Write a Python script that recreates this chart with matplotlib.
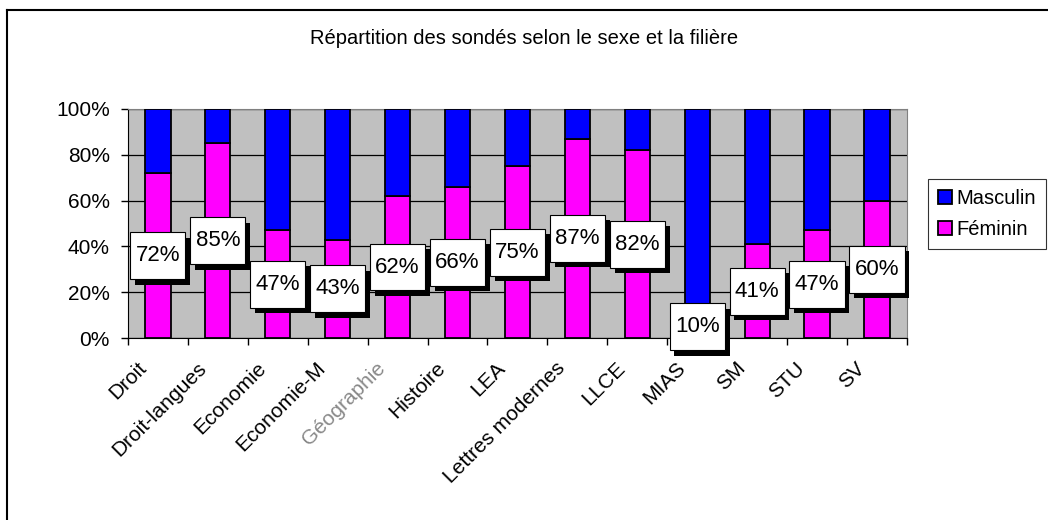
import matplotlib.pyplot as plt
from matplotlib.lines import Line2D
from matplotlib.patches import Rectangle
import numpy as np

plt.rcParams['font.family'] = ['Liberation Sans', 'DejaVu Sans']

filieres = ['Droit', 'Droit-langues', 'Economie', 'Economie-M', 'Géographie',
            'Histoire', 'LEA', 'Lettres modernes', 'LLCE', 'MIAS', 'SM', 'STU', 'SV']
feminin = [72, 85, 47, 43, 62, 66, 75, 87, 82, 10, 41, 47, 60]
masculin = [100 - f for f in feminin]

fig = plt.figure(figsize=(10.48, 5.2), dpi=100)
ax = fig.add_axes([0.1221, 0.35, 0.7433, 0.4404])
ax.set_facecolor('#C0C0C0')

x = np.arange(len(filieres))
ax.bar(x, feminin, width=0.42, color='#FF00FF', edgecolor='black', linewidth=1.3,
       label='Féminin', zorder=3)
ax.bar(x, masculin, width=0.42, bottom=feminin, color='#0000FF', edgecolor='black',
       linewidth=1.3, label='Masculin', zorder=3)

ax.set_xlim(-0.5, len(filieres) - 0.5)
ax.set_ylim(0, 100)
ax.set_yticks(range(0, 101, 20))
ax.set_yticklabels([f'{v}%' for v in range(0, 101, 20)], fontsize=15)
ax.yaxis.grid(True, color='black', linewidth=0.9, zorder=1)
ax.set_axisbelow(True)

# ticks between categories, labels at centres
ax.set_xticks(np.arange(-0.5, len(filieres), 1.0))
ax.set_xticklabels([])
ax.tick_params(axis='x', direction='out', length=5, width=1)
ax.tick_params(axis='y', direction='out', length=5, width=1, pad=8)
for i, name in enumerate(filieres):
    geo = name == 'Géographie'
    ax.text(i - 0.36, -9, name, rotation=45, ha='right', va='top',
            rotation_mode='anchor', fontsize=15, clip_on=False,
            color='#606060' if geo else 'black', alpha=0.75 if geo else 1)

for s in ['top', 'right']:
    ax.spines[s].set_color('#808080')
for s in ['left', 'bottom']:
    ax.spines[s].set_color('black')

# data labels in white boxes with shadow
bw, bh = 0.92, 20.5
for i, f in enumerate(feminin):
    cy = f / 2
    shadow = Rectangle((i - bw / 2 + 0.08, cy - bh / 2 - 2.4), bw, bh,
                       facecolor='black', edgecolor='none', zorder=5, clip_on=False)
    box = Rectangle((i - bw / 2, cy - bh / 2), bw, bh, facecolor='white',
                    edgecolor='black', linewidth=0.8, zorder=6, clip_on=False)
    ax.add_patch(shadow)
    ax.add_patch(box)
    ax.text(i, cy, f'{f}%', ha='center', va='center', fontsize=16, zorder=7)

fig.text(0.5, 0.925, 'Répartition des sondés selon le sexe et la filière',
         ha='center', va='center', fontsize=14.5)

handles, labels = ax.get_legend_handles_labels()
leg = fig.legend(handles[::-1], labels[::-1], loc='upper left',
                 bbox_to_anchor=(0.8855, 0.6558), fontsize=14.5, frameon=True,
                 fancybox=False, edgecolor='black', handlelength=0.7,
                 handleheight=0.7, handletextpad=0.2, borderpad=0.5,
                 labelspacing=0.6, borderaxespad=0)
leg.get_frame().set_linewidth(0.8)

# outer chart frame (top and left edges visible)
fig.add_artist(Line2D([7 / 1048, 1], [1 - 9.5 / 520, 1 - 9.5 / 520], color='black', linewidth=1.5))
fig.add_artist(Line2D([7 / 1048, 7 / 1048], [0, 1 - 9.5 / 520], color='black', linewidth=1.5))

fig.savefig('out.png', dpi=100)
